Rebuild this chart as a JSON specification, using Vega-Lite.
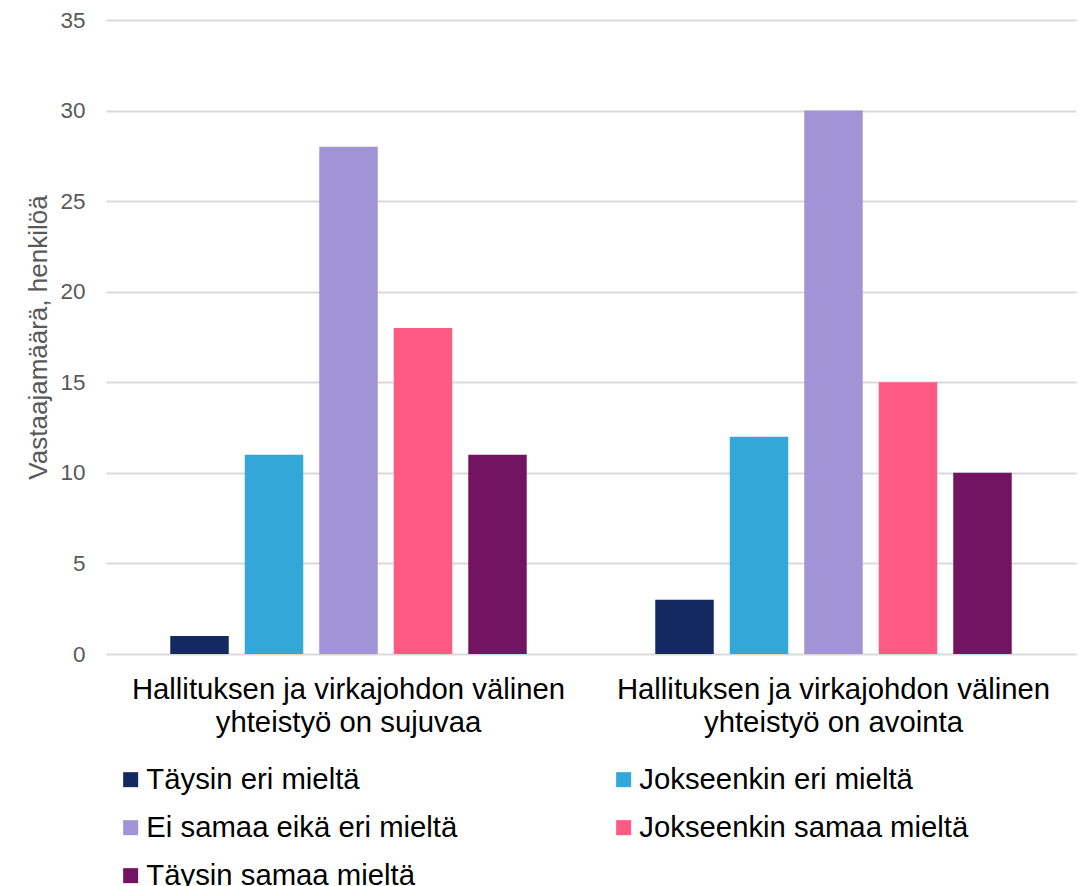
{
  "$schema": "https://vega.github.io/schema/vega-lite/v6.json",
  "width": 970,
  "height": 634,
  "autosize": {"type": "none"},
  "padding": {"left": 106, "top": 20, "right": 8, "bottom": 232},
  "background": "white",
  "config": {
    "font": "Liberation Sans",
    "view": {"stroke": null}
  },
  "data": {
    "values": [
      {"kysymys": "Hallituksen ja virkajohdon välinen yhteistyö on sujuvaa", "vastaus": "Täysin eri mieltä", "n": 1},
      {"kysymys": "Hallituksen ja virkajohdon välinen yhteistyö on sujuvaa", "vastaus": "Jokseenkin eri mieltä", "n": 11},
      {"kysymys": "Hallituksen ja virkajohdon välinen yhteistyö on sujuvaa", "vastaus": "Ei samaa eikä eri mieltä", "n": 28},
      {"kysymys": "Hallituksen ja virkajohdon välinen yhteistyö on sujuvaa", "vastaus": "Jokseenkin samaa mieltä", "n": 18},
      {"kysymys": "Hallituksen ja virkajohdon välinen yhteistyö on sujuvaa", "vastaus": "Täysin samaa mieltä", "n": 11},
      {"kysymys": "Hallituksen ja virkajohdon välinen yhteistyö on avointa", "vastaus": "Täysin eri mieltä", "n": 3},
      {"kysymys": "Hallituksen ja virkajohdon välinen yhteistyö on avointa", "vastaus": "Jokseenkin eri mieltä", "n": 12},
      {"kysymys": "Hallituksen ja virkajohdon välinen yhteistyö on avointa", "vastaus": "Ei samaa eikä eri mieltä", "n": 30},
      {"kysymys": "Hallituksen ja virkajohdon välinen yhteistyö on avointa", "vastaus": "Jokseenkin samaa mieltä", "n": 15},
      {"kysymys": "Hallituksen ja virkajohdon välinen yhteistyö on avointa", "vastaus": "Täysin samaa mieltä", "n": 10}
    ]
  },
  "mark": {"type": "bar"},
  "encoding": {
    "x": {
      "field": "kysymys",
      "type": "nominal",
      "sort": null,
      "scale": {"paddingInner": 0.232, "paddingOuter": 0.116},
      "axis": {
        "title": null,
        "labelAngle": 0,
        "domain": false,
        "ticks": false,
        "labelExpr": "[slice(datum.label,0,34), slice(datum.label,35)]",
        "labelFontSize": 29.3,
        "labelLineHeight": 33,
        "labelColor": "#000000",
        "labelPadding": 21,
        "labelLimit": 0
      }
    },
    "xOffset": {
      "field": "vastaus",
      "type": "nominal",
      "sort": ["Täysin eri mieltä", "Jokseenkin eri mieltä", "Ei samaa eikä eri mieltä", "Jokseenkin samaa mieltä", "Täysin samaa mieltä"],
      "scale": {"paddingInner": 0.215, "paddingOuter": 0.1075}
    },
    "y": {
      "field": "n",
      "type": "quantitative",
      "scale": {"domain": [0, 35]},
      "axis": {
        "title": "Vastaajamäärä, henkilöä",
        "titleFontSize": 26,
        "titleFontWeight": "normal",
        "titleColor": "#595959",
        "titlePadding": 8,
        "values": [0, 5, 10, 15, 20, 25, 30, 35],
        "domain": false,
        "ticks": false,
        "labelFontSize": 22.5,
        "labelColor": "#595959",
        "labelPadding": 21,
        "gridColor": "#D9D9D9",
        "gridWidth": 2
      }
    },
    "color": {
      "field": "vastaus",
      "type": "nominal",
      "sort": ["Täysin eri mieltä", "Jokseenkin eri mieltä", "Ei samaa eikä eri mieltä", "Jokseenkin samaa mieltä", "Täysin samaa mieltä"],
      "scale": {
        "domain": ["Täysin eri mieltä", "Jokseenkin eri mieltä", "Ei samaa eikä eri mieltä", "Jokseenkin samaa mieltä", "Täysin samaa mieltä"],
        "range": ["#13295F", "#33A7D8", "#A094D6", "#FF5A83", "#721462"]
      },
      "legend": {
        "title": null,
        "orient": "none",
        "legendX": 10,
        "legendY": 745,
        "direction": "horizontal",
        "columns": 2,
        "columnPadding": 151,
        "rowPadding": 18,
        "padding": 0,
        "symbolType": "square",
        "symbolSize": 225,
        "symbolStrokeWidth": 0,
        "labelFontSize": 29.3,
        "labelColor": "#000000",
        "labelOffset": 1,
        "labelLimit": 0
      }
    }
  }
}
